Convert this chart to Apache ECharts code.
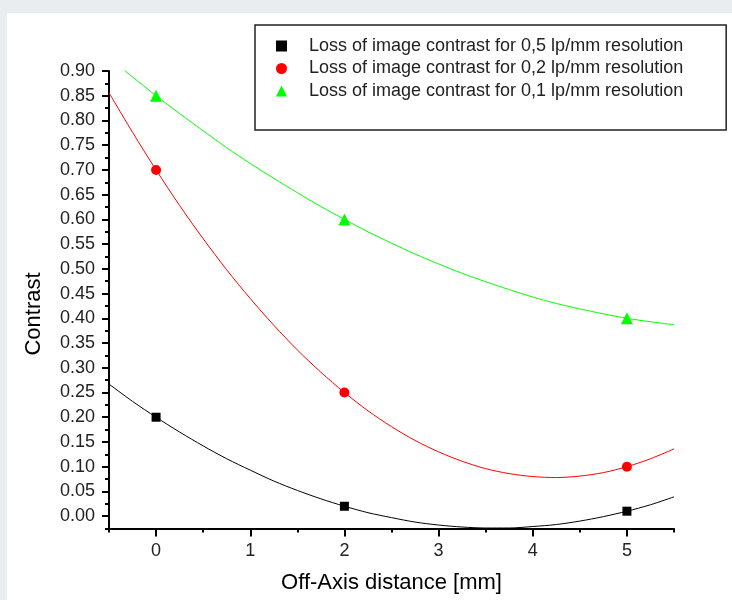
<!DOCTYPE html>
<html>
<head>
<meta charset="utf-8">
<script src="https://cdn.jsdelivr.net/npm/echarts@6/dist/echarts.min.js"></script>
<style>
    html, body { margin: 0; padding: 0; background: #fff; }
    #chart { width: 732px; height: 600px; }
</style>
</head>
<body>
<div id="chart"></div>
<script>
    // measured points
    var xPts = [0, 2, 5];
    var black = [0.20, 0.02, 0.01];
    var red = [0.70, 0.25, 0.10];
    var green = [0.85, 0.60, 0.40];

    // fitted curves, every 0.25 mm
    var xFit = [-0.5, -0.25, 0, 0.25, 0.5, 0.75, 1, 1.25, 1.5, 1.75, 2, 2.25, 2.5,
        2.75, 3, 3.25, 3.5, 3.75, 4, 4.25, 4.5, 4.75, 5, 5.25, 5.5];
    var blackFit = [0.267, 0.232, 0.200, 0.170, 0.142, 0.116, 0.093, 0.071, 0.052, 0.035, 0.020, 0.007, -0.003,
        -0.012, -0.018, -0.022, -0.024, -0.024, -0.021, -0.017, -0.010, -0.001, 0.010, 0.023, 0.039];
    var redFit = [0.856, 0.776, 0.700, 0.628, 0.561, 0.498, 0.440, 0.386, 0.336, 0.291, 0.250, 0.213, 0.181,
        0.153, 0.130, 0.111, 0.096, 0.086, 0.080, 0.078, 0.081, 0.088, 0.100, 0.116, 0.136];
    var greenFit = [0.927, 0.888, 0.850, 0.814, 0.779, 0.745, 0.713, 0.683, 0.654, 0.626, 0.600, 0.575, 0.552,
        0.530, 0.510, 0.491, 0.474, 0.458, 0.443, 0.430, 0.419, 0.409, 0.400, 0.393, 0.387];

    var names = [
        'Loss of image contrast for 0,5 lp/mm resolution',
        'Loss of image contrast for 0,2 lp/mm resolution',
        'Loss of image contrast for 0,1 lp/mm resolution'
    ];

    var xTicks = [0, 1, 2, 3, 4, 5];
    var yTicks = [0, 0.05, 0.1, 0.15, 0.2, 0.25, 0.3, 0.35, 0.4, 0.45, 0.5, 0.55, 0.6, 0.65, 0.7, 0.75, 0.8, 0.85, 0.9];

    function pairs(xs, ys) {
        var out = [];
        for (var i = 0; i < xs.length; i++) {
            out.push([xs[i], ys[i]]);
        }
        return out;
    }

    var font = 'Liberation Sans';
    var chart = echarts.init(document.getElementById('chart'));

    function fitLine(name, ys, color) {
        return {
            name: name,
            type: 'line',
            data: pairs(xFit, ys),
            smooth: 0.3,
            showSymbol: false,
            lineStyle: { color: color, width: 1 },
            itemStyle: { color: color },
            z: 2
        };
    }

    function points(name, ys, color, symbol, size) {
        return {
            name: name,
            type: 'scatter',
            data: pairs(xPts, ys),
            symbol: symbol,
            symbolSize: size,
            itemStyle: { color: color, opacity: 1 },
            z: 3
        };
    }

    var option = {
        animation: false,
        backgroundColor: '#e9ecf0',
        graphic: [{
            type: 'rect',
            shape: { x: 7, y: 13, width: 725, height: 587 },
            style: { fill: '#ffffff' },
            z: -10
        }, {
            type: 'text',
            x: 34,
            y: 314,
            rotation: Math.PI / 2,
            style: {
                text: 'Contrast',
                fontFamily: font,
                fontSize: 22,
                fill: '#000',
                align: 'center',
                verticalAlign: 'middle'
            }
        }],
        grid: { left: 109, right: 58, top: 71, bottom: 71.5 },
        legend: {
            orient: 'vertical',
            left: 255,
            top: 25,
            data: names,
            itemWidth: 11,
            itemHeight: 11,
            itemGap: 4.5,
            padding: [12, 43, 30, 21],
            backgroundColor: '#ffffff',
            borderColor: '#222',
            borderWidth: 1.5,
            borderRadius: 0,
            textStyle: {
                fontFamily: font,
                fontSize: 18,
                color: '#222',
                lineHeight: 18,
                padding: [0, 0, 0, 17]
            }
        },
        xAxis: [{
            type: 'value',
            min: -0.5,
            max: 5.5,
            name: 'Off-Axis distance [mm]',
            nameLocation: 'middle',
            nameGap: 43,
            nameTextStyle: { fontFamily: font, fontSize: 22, color: '#000' },
            splitLine: { show: false },
            axisLine: { onZero: false, lineStyle: { color: '#000', width: 2 } },
            axisTick: { customValues: xTicks, length: 8, lineStyle: { color: '#000', width: 2 } },
            axisLabel: { customValues: xTicks, margin: 14, fontFamily: font, fontSize: 18, color: '#222' }
        }, {
            type: 'value',
            position: 'bottom',
            min: -0.5,
            max: 5.5,
            interval: 0.5,
            splitLine: { show: false },
            axisLine: { show: false, onZero: false },
            axisTick: { length: 4, lineStyle: { color: '#000', width: 2 } },
            axisLabel: { show: false }
        }],
        yAxis: [{
            type: 'value',
            min: -0.025,
            max: 0.9,
            splitLine: { show: false },
            axisLine: { onZero: false, lineStyle: { color: '#000', width: 2 } },
            axisTick: { customValues: yTicks, length: 7, lineStyle: { color: '#000', width: 2 } },
            axisLabel: {
                customValues: yTicks,
                margin: 14,
                fontFamily: font,
                fontSize: 18,
                color: '#222',
                formatter: function (v) { return v.toFixed(2); }
            }
        }, {
            type: 'value',
            position: 'left',
            min: -0.025,
            max: 0.9,
            interval: 0.025,
            splitLine: { show: false },
            axisLine: { show: false, onZero: false },
            axisTick: { length: 4, lineStyle: { color: '#000', width: 2 } },
            axisLabel: { show: false }
        }],
        series: [
            fitLine('fit05', blackFit, '#000000'),
            fitLine('fit02', redFit, '#ff0000'),
            fitLine('fit01', greenFit, '#00ff00'),
            points(names[0], black, '#000000', 'rect', 9),
            points(names[1], red, '#ff0000', 'circle', 10),
            points(names[2], green, '#00ff00', 'triangle', 12)
        ]
    };

    chart.setOption(option);
</script>
</body>
</html>
